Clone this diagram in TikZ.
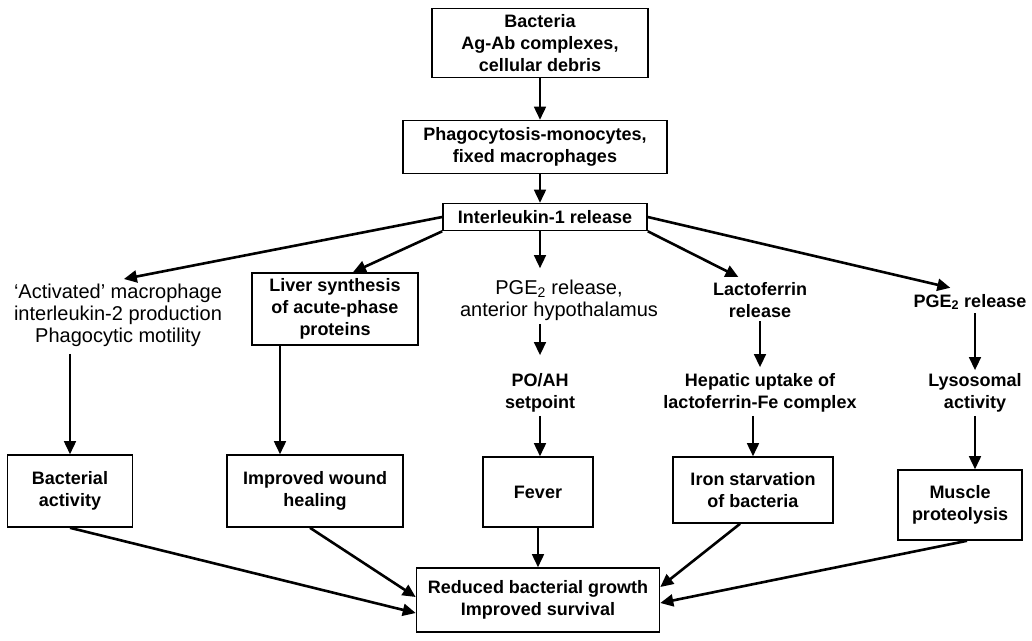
\documentclass[tikz,border=0pt]{standalone}
\usepackage{fontspec}
\setmainfont{Liberation Sans}
\usetikzlibrary{arrows.meta}

\begin{document}
\begin{tikzpicture}[x=1pt,y=-1pt,
	every node/.style={align=center,font=\fontsize{18}{22}\selectfont\bfseries},
	box/.style={draw,line width=1.6pt,inner sep=0pt},
	plain/.style={font=\fontsize{20}{22}\selectfont},
	arr/.style={-{Triangle[length=13pt,width=12pt]},line width=1.6pt},
	fat/.style={arr,line width=2.6pt}]
	\useasboundingbox (0,0) rectangle (1032,640);
	% top chain
	\node[box,minimum width=216pt,minimum height=69pt] (bact) at (540,43) {Bacteria\\Ag-Ab complexes,\\cellular debris};
	\node[box,minimum width=264pt,minimum height=53pt] (phago) at (535,147) {Phagocytosis-monocytes,\\fixed macrophages};
	\node[box,minimum width=204pt,minimum height=27pt] (il1) at (545,217) {Interleukin-1 release};
	% middle row
	\node[plain] (activ) at (118,315) {`Activated' macrophage\\interleukin-2 production\\Phagocytic motility};
	\node[box,minimum width=166pt,minimum height=72pt] (liver) at (335,309) {Liver synthesis\\of acute-phase\\proteins};
	\node[plain] (pge) at (559,300) {PGE\textsubscript{2} release,\\anterior hypothalamus};
	\node (poah) at (540,393) {PO/AH\\setpoint};
	\node (lacto) at (760,300) {Lactoferrin\\release};
	\node (hepat) at (760,393) {Hepatic uptake of\\lactoferrin-Fe complex};
	\node (pger) at (970,302) {PGE\textsubscript{2} release};
	\node (lyso) at (975,393) {Lysosomal\\activity};
	% effect boxes
	\node[box,minimum width=125pt,minimum height=72pt] (bactact) at (70,491) {Bacterial\\activity};
	\node[box,minimum width=176pt,minimum height=72pt] (wound) at (315,491) {Improved wound\\healing};
	\node[box,minimum width=110pt,minimum height=70pt] (fever) at (538,492) {Fever};
	\node[box,minimum width=160pt,minimum height=66pt] (iron) at (753,490) {Iron starvation\\of bacteria};
	\node[box,minimum width=124pt,minimum height=70pt] (muscle) at (960,505) {Muscle\\proteolysis};
	\node[box,minimum width=243pt,minimum height=64pt] (reduced) at (538,600) {Reduced bacterial growth\\Improved survival};
	% connectors
	\draw[arr] (bact.south) -- (bact.south |- phago.north);
	\draw[arr] (phago.south -| bact.south) -- (il1.north -| bact.south);
	\draw[fat,shorten >=6pt] (il1.west) -- (activ.north);
	\draw[fat] (il1.south west) -- ([xshift=18pt]liver.north);
	\draw[arr,shorten >=8pt] (il1.south -| poah) -- (pge.north -| poah);
	\draw[fat,shorten >=4pt] (il1.south east) -- ([xshift=-18pt]lacto.north);
	\draw[fat,shorten >=12pt] (il1.east) -- ([xshift=-8pt]pger.north);
	\draw[arr,shorten <=4pt] (activ.south -| bactact.north) -- (bactact.north);
	\draw[arr] ([xshift=-55pt]liver.south) -- ([xshift=-35pt]wound.north);
	\draw[arr,shorten >=15pt] (pge.south -| poah) -- (poah.north);
	\draw[arr] (poah.south) -- (poah.south |- fever.north);
	\draw[arr,shorten >=3pt] (lacto.south) -- (hepat.north);
	\draw[arr] (hepat.south -| iron.north) -- (iron.north);
	\draw[arr] (pger.south -| lyso) -- (lyso.north);
	\draw[arr] (lyso.south) -- (lyso.south |- muscle.north);
	\draw[fat] (bactact.south) -- ([yshift=-13pt]reduced.west);
	\draw[fat] ([xshift=-5pt]wound.south) -- ([yshift=3pt]reduced.west);
	\draw[arr] (fever.south) -- (reduced.north);
	\draw[fat] ([xshift=-13pt]iron.south) -- ([yshift=13pt]reduced.east);
	\draw[fat] ([xshift=7pt]muscle.south) -- ([yshift=-3pt]reduced.east);
\end{tikzpicture}
\end{document}
